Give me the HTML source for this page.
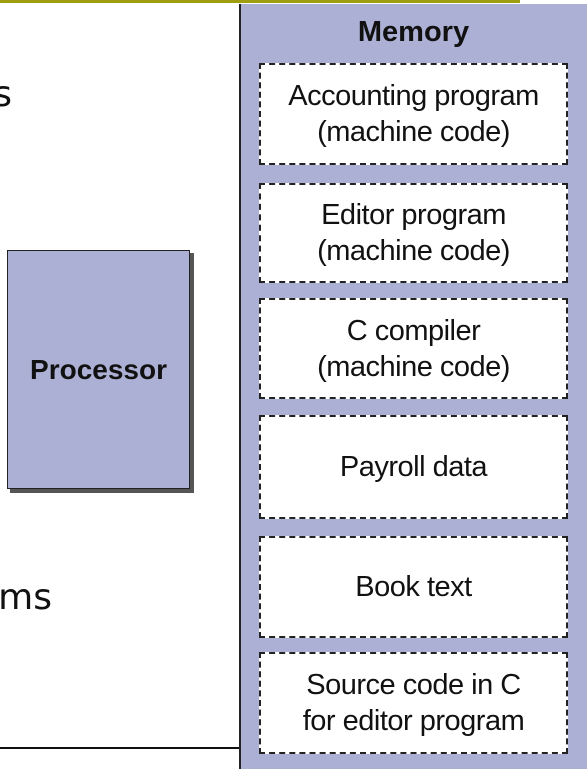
<!DOCTYPE html>
<html><head><style>
body{margin:0;width:587px;height:769px;overflow:hidden;background:#fff;position:relative;font-family:"Liberation Sans",sans-serif}
.a{position:absolute}
.big{font-family:"DejaVu Sans",sans-serif;font-size:36px;color:#111;line-height:1}
.mb{position:absolute;left:259px;width:305px;background:#fff;border:2px dashed #222;display:flex;align-items:center;justify-content:center;text-align:center;font-size:29px;line-height:36px;color:#111;letter-spacing:-0.5px}
</style></head><body>
<div class="a" style="left:0;top:0;width:520px;height:3px;background:#9e9e10"></div>
<div class="a big" style="right:575px;top:77px">s</div>
<div class="a big" style="right:535px;top:580px">ms</div>
<div class="a" style="left:0;top:747px;width:240px;height:2px;background:#111"></div>
<div class="a" style="left:10px;top:253px;width:184px;height:240px;background:#555"></div>
<div class="a" style="left:7px;top:250px;width:181px;height:237px;background:#acb0d4;border:1px solid #222;display:flex;align-items:center;justify-content:center;font-weight:bold;font-size:28px;color:#111">Processor</div>
<div class="a" style="left:239px;top:4px;width:348px;height:765px;background:#acb0d4;border-left:2px solid #222;box-sizing:border-box"></div>
<div class="a" style="left:240px;top:15px;width:347px;text-align:center;font-weight:bold;font-size:29px;line-height:34px;color:#111">Memory</div>
<div class="mb" style="top:63px;height:98px">Accounting program<br>(machine code)</div>
<div class="mb" style="top:183px;height:96px">Editor program<br>(machine code)</div>
<div class="mb" style="top:298px;height:97px">C compiler<br>(machine code)</div>
<div class="mb" style="top:415px;height:100px">Payroll data</div>
<div class="mb" style="top:536px;height:98px">Book text</div>
<div class="mb" style="top:652px;height:98px">Source code in C<br>for editor program</div>
</body></html>
